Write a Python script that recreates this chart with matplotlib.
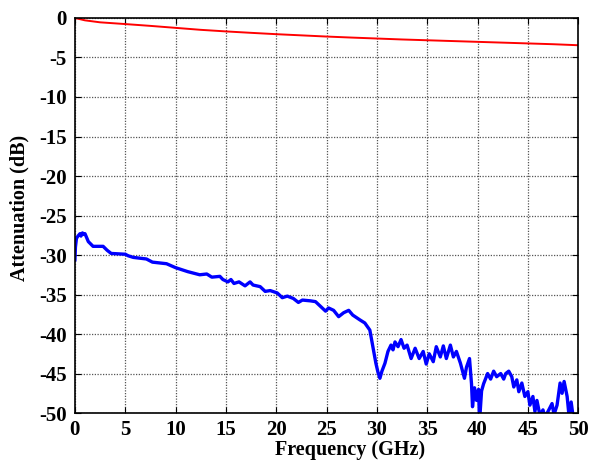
#!/usr/bin/env python3
# coding: utf-8

import numpy as np
import matplotlib
matplotlib.use("Agg")
import matplotlib.pyplot as plt

plt.rcParams['font.family'] = ['Liberation Serif', 'DejaVu Serif']
plt.rcParams['font.weight'] = 'bold'
plt.rcParams['axes.unicode_minus'] = False

# Red trace (GHz, dB)
red_f = [0, 1, 2.5, 5, 7.5, 10, 12.5, 15, 17.5, 20, 22.5, 25, 27.5, 30,
         32.5, 35, 37.5, 40, 42.5, 45, 47.5, 50]
red_db = [0, -0.3, -0.55, -0.77, -1.0, -1.25, -1.5, -1.7, -1.88, -2.05, -2.2,
          -2.35, -2.48, -2.6, -2.72, -2.82, -2.92, -3.02, -3.12, -3.22, -3.32, -3.45]

# Blue trace (GHz, dB)
blue_f = [0.0, 0.05, 0.15, 0.3, 0.5, 0.6, 0.75, 0.9, 1.0, 1.33, 1.65, 1.8, 2.8,
          3.2, 3.6, 5.0, 5.3, 5.8, 7.1, 7.7, 9.1, 10.0, 11.2, 12.4, 13.1, 13.6,
          14.4, 14.7, 15.2, 15.5, 15.8, 16.3, 16.9, 17.4, 17.7, 18.4, 18.9, 19.4,
          20.1, 20.6, 21.1, 21.7, 22.2, 22.6, 23.4, 23.9, 24.4, 24.9, 25.2, 25.7,
          26.2, 26.7, 27.2, 27.6, 28.3, 28.8, 29.3, 29.6, 29.9, 30.1, 30.3, 30.5,
          30.8, 31.1, 31.4, 31.6, 31.8, 32.1, 32.4, 32.7, 33.0, 33.4, 33.8, 34.2,
          34.6, 34.9, 35.2, 35.6, 35.9, 36.3, 36.6, 36.9, 37.3, 37.6, 37.9, 38.3,
          38.7, 38.9, 39.2, 39.4, 39.5, 39.7, 39.9, 40.1, 40.2, 40.4, 40.6, 41.0,
          41.3, 41.6, 41.9, 42.3, 42.6, 42.8, 43.1, 43.4, 43.6, 43.9, 44.1, 44.4,
          44.7, 45.0, 45.2, 45.5, 45.7, 45.9, 46.2, 46.5, 46.7, 47.0, 47.4, 47.6,
          47.9, 48.2, 48.4, 48.6, 48.9, 49.1, 49.3, 49.5]
blue_db = [-30.6, -29.0, -27.9, -27.6, -27.3, -27.6, -27.2, -27.4, -27.3, -28.3,
           -28.7, -28.9, -28.9, -29.4, -29.8, -29.9, -30.1, -30.3, -30.5, -30.9,
           -31.1, -31.6, -32.1, -32.5, -32.4, -32.8, -32.7, -33.1, -33.4, -33.1,
           -33.6, -33.4, -33.9, -33.4, -33.8, -34.0, -34.6, -34.5, -34.8, -35.4,
           -35.2, -35.5, -36.0, -35.7, -35.8, -35.9, -36.5, -37.1, -36.7, -37.0,
           -37.8, -37.3, -37.0, -37.6, -38.2, -38.6, -39.5, -41.6, -43.7, -44.8,
           -45.6, -44.7, -43.7, -42.2, -41.4, -42.0, -41.0, -41.6, -40.7, -41.8,
           -41.4, -43.1, -41.8, -43.1, -42.2, -43.8, -42.5, -43.5, -41.6, -42.9,
           -41.5, -43.1, -41.4, -42.9, -42.2, -43.7, -45.6, -44.2, -43.1, -46.3,
           -49.2, -46.8, -48.4, -47.0, -51.0, -47.2, -46.3, -45.0, -45.7, -44.7,
           -45.4, -45.0, -45.7, -45.0, -44.7, -45.4, -46.7, -45.8, -47.3, -46.2,
           -47.9, -47.3, -49.0, -47.9, -49.8, -48.4, -50.3, -49.6, -50.5, -49.8,
           -48.8, -50.2, -49.0, -46.2, -47.5, -46.0, -47.9, -50.5, -48.6, -50.5]

fig = plt.figure(figsize=(5.9, 4.61), dpi=100)
ax = fig.add_axes([0.127, 0.104, 0.853, 0.857])

ax.plot(red_f, red_db, color='red', lw=1.4)
ax.plot(blue_f, blue_db, color='blue', lw=2.4)

ax.set_xlim(0, 50)
ax.set_ylim(-50, 0)
ax.set_xticks(np.arange(0, 51, 5))
ax.set_yticks(np.arange(-50, 1, 5))
ax.grid(True, color='#555555', linestyle=(0, (1, 1.2)), linewidth=0.9)
ax.tick_params(direction='in', length=4, top=True, right=True, labelsize=15)
ax.tick_params(axis='x', pad=5)
ax.tick_params(axis='y', pad=6)
for lbl in ax.get_xticklabels() + ax.get_yticklabels():
    lbl.set_fontweight('bold')
for sp in ax.spines.values():
    sp.set_linewidth(1.2)

ax.set_xlabel('Frequency (GHz)', fontsize=14.5, fontweight='bold')
ax.set_ylabel('Attenuation (dB)', fontsize=14.5, fontweight='bold')
# labels sit a bit off-centre in the original
ax.xaxis.set_label_coords(0.547, -0.068)
ax.yaxis.set_label_coords(-0.09, 0.52)

fig.savefig('out.png', dpi=100)
